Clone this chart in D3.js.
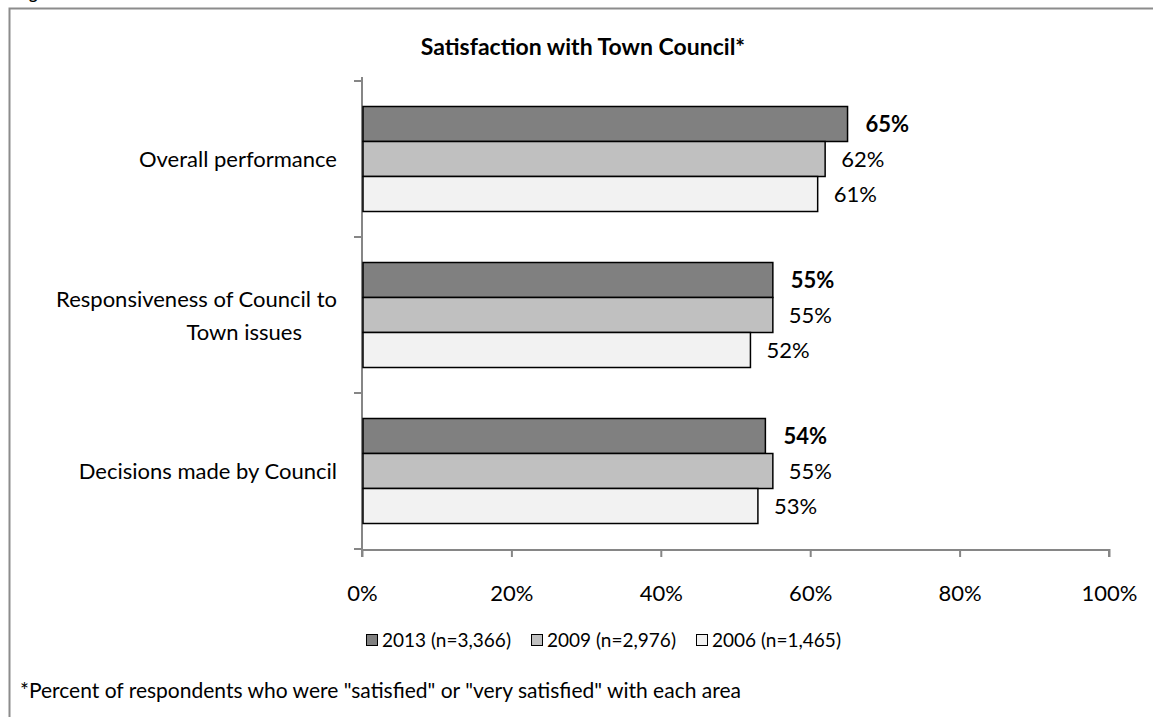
<!DOCTYPE html>
<html><head><meta charset="utf-8">
<script src="https://cdn.jsdelivr.net/npm/d3@7"></script>
<style>body{margin:0;background:#fff;} svg{display:block;font-family:Lato, "Open Sans", sans-serif;}</style>
</head><body>
<svg id="c" width="1153" height="717"></svg>
<script>
const categories = ["Overall performance", "Responsiveness of Council to\nTown issues", "Decisions made by Council"];
const seriesNames = ["2013 (n=3,366)", "2009 (n=2,976)", "2006 (n=1,465)"];
const values2013 = [65, 55, 54];
const values2009 = [62, 55, 55];
const values2006 = [61, 52, 53];
const xTicks = [0, 20, 40, 60, 80, 100];
const colors = ["#808080", "#c0c0c0", "#f2f2f2"];
const series = [values2013, values2009, values2006];

const svg = d3.select("#c");
// frame
svg.append("path").attr("d","M9.5,717 V8.5 H1153").attr("fill","none").attr("stroke","#8c8c8c").attr("stroke-width",2);
svg.append("text").attr("x",16).attr("y",-1).attr("font-weight","bold").attr("font-size",16).text("Figure");

const x = d3.scaleLinear().domain([0,100]).range([362,1109]);
const y = d3.scaleBand().domain(categories).range([81,549]);
const inner = d3.scaleBand().domain([0,1,2]).range([0, 105]);
const off = (y.bandwidth()-105)/2;

svg.append("text").attr("x",583).attr("y",55).attr("text-anchor","middle")
  .attr("font-weight","bold").attr("font-size",23).text("Satisfaction with Town Council*");

// x axis
const xa = svg.append("g").attr("transform","translate(0,549)")
  .call(d3.axisBottom(x).tickValues(xTicks).tickSize(8).tickFormat(d=>d+"%"));
xa.select(".domain").attr("stroke","#868686").attr("stroke-width",2).attr("d","M362,1V8M362,1H1109V8");
xa.selectAll(".tick line").attr("stroke","#868686").attr("stroke-width",2);
xa.selectAll(".tick text").attr("font-size",22).attr("fill","#000").attr("y",52).attr("dy",0).attr("font-family","Lato");

// y axis
svg.append("line").attr("x1",362).attr("x2",362).attr("y1",77).attr("y2",549).attr("stroke","#868686").attr("stroke-width",2);
const bounds = [y.range()[0]].concat(categories.map(c=>y(c)+y.bandwidth()));
svg.selectAll(".yt").data(bounds).enter().append("line")
  .attr("x1",354).attr("x2",362).attr("y1",d=>d).attr("y2",d=>d).attr("stroke","#868686").attr("stroke-width",2);

// category labels
categories.forEach(c=>{
  const lines = c.split("\n");
  const cy = y(c)+y.bandwidth()/2;
  const t = svg.append("text").attr("text-anchor","end").attr("font-size",22).attr("x",337);
  lines.forEach((l,i)=>{
    t.append("tspan").attr("x", i===0?337:302).attr("y", cy + 8 + (i-(lines.length-1)/2)*33).text(l);
  });
});

// bars
series.forEach((vals,si)=>{
  svg.selectAll(".b"+si).data(vals).enter().append("rect")
    .attr("x",x(0)+1).attr("y",(d,i)=>y(categories[i])+off+inner(si))
    .attr("width",d=>x(d)-x(0)-1).attr("height",inner.bandwidth())
    .attr("fill",colors[si]).attr("stroke","#000").attr("stroke-width",1.5);
  svg.selectAll(".l"+si).data(vals).enter().append("text")
    .attr("x",d=>x(d)+(si===0?18:16)).attr("y",(d,i)=>y(categories[i])+off+inner(si)+inner.bandwidth()/2+8)
    .attr("font-size",22).attr("font-weight",si===0?"bold":"normal").text(d=>d+"%");
});

// legend
const legX = [366, 531, 696];
seriesNames.forEach((n,i)=>{
  svg.append("rect").attr("x",legX[i]+0.5).attr("y",634.5).attr("width",11).attr("height",11)
    .attr("fill",colors[i]).attr("stroke","#000").attr("stroke-width",1);
  svg.append("text").attr("x",legX[i]+16).attr("y",647).attr("font-size",19).text(n);
});

svg.append("text").attr("x",20).attr("y",698).attr("font-size",21)
  .text('*Percent of respondents who were "satisfied" or "very satisfied" with each area');
</script>
</body></html>
